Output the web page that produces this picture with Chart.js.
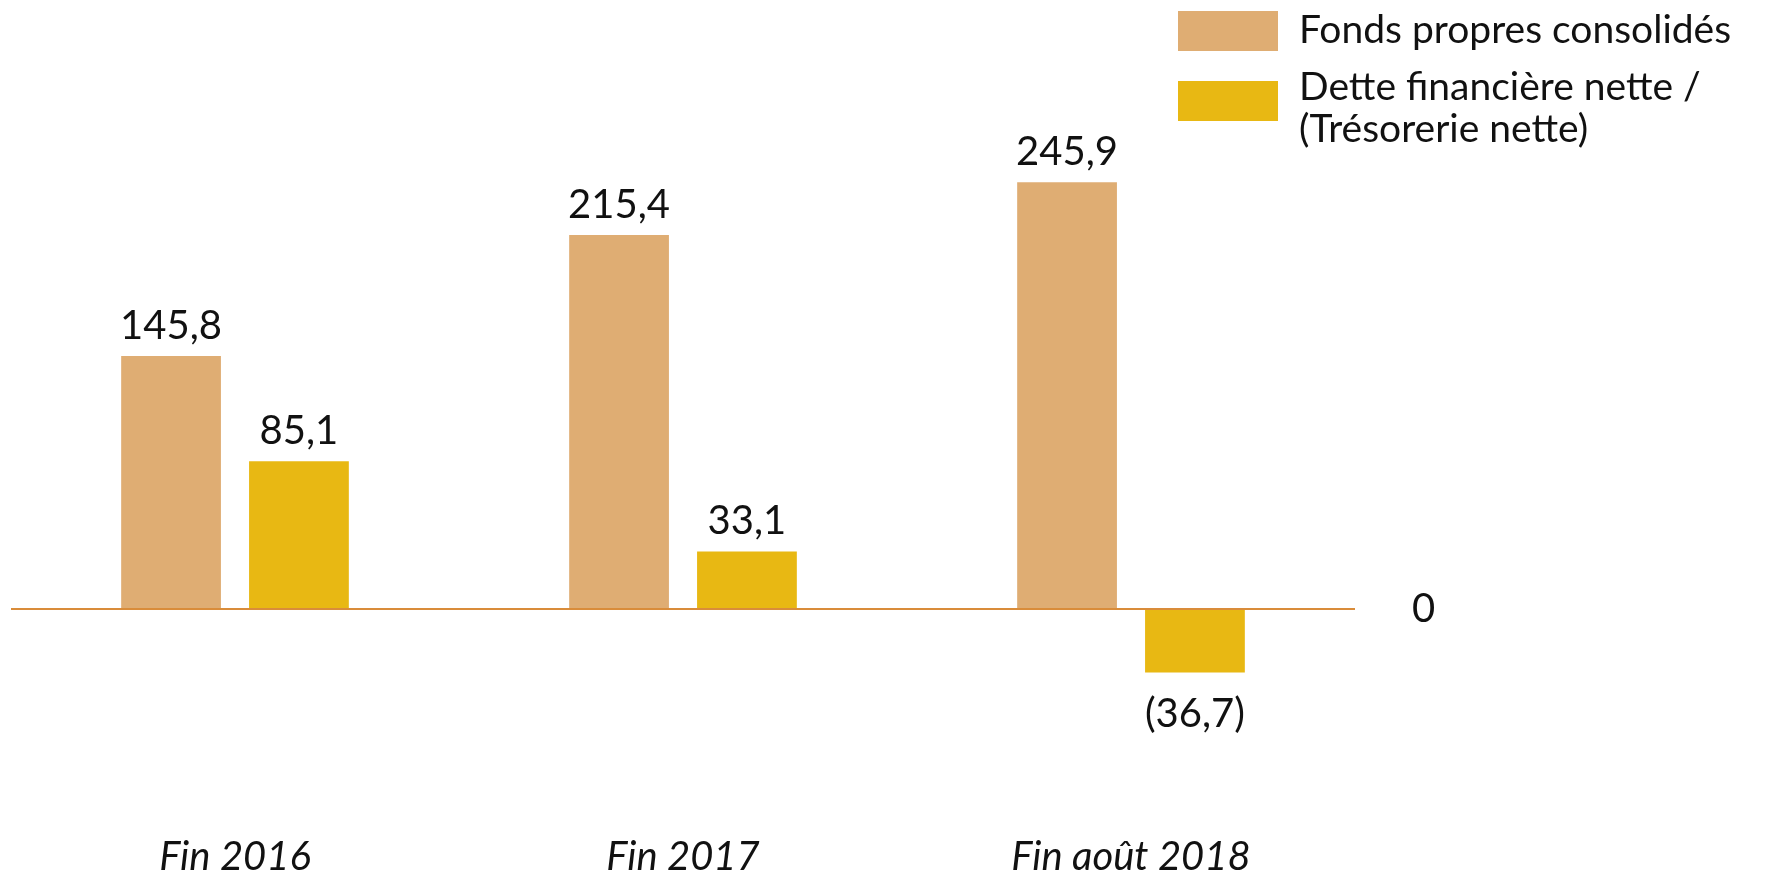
<!DOCTYPE html>
<html>
<head>
<meta charset="utf-8">
<script src="https://cdn.jsdelivr.net/npm/chart.js@4/dist/chart.umd.min.js"></script>
<style>
  html, body { margin: 0; padding: 0; background: #fff; }
  #wrap { position: relative; width: 1771px; height: 876px; }
  #legend { position: absolute; left: 1178px; top: 7px; font-family: Lato, sans-serif; font-size: 39px; color: #111; white-space: nowrap; }
  .item { position: relative; padding-left: 121px; line-height: 42px; }
  .box { position: absolute; left: 0; width: 100px; height: 40px; }
</style>
</head>
<body>
<div id="wrap">
  <canvas id="chart" width="1771" height="876"></canvas>
  <div id="legend"></div>
</div>
<script>
const categories = ['Fin 2016', 'Fin 2017', 'Fin août 2018'];
const fondsPropres = [145.8, 215.4, 245.9];
const detteNette = [85.1, 33.1, -36.7];
const seriesNames = ['Fonds propres consolidés', 'Dette financière nette /\n(Trésorerie nette)'];
const colors = ['#DFAD73', '#E8B813'];

const fontFamily = 'Lato, sans-serif';

// legend in html, the second name wraps on two lines
const legend = document.getElementById('legend');
seriesNames.forEach((name, i) => {
    const div = document.createElement('div');
    div.className = 'item';
    div.style.marginBottom = i === 0 ? '15px' : '0';
    const box = document.createElement('span');
    box.className = 'box';
    box.style.background = colors[i];
    box.style.top = i === 0 ? '4px' : '17px';
    div.appendChild(box);
    name.split('\n').forEach((line, j) => {
        if (j > 0) div.appendChild(document.createElement('br'));
        div.appendChild(document.createTextNode(line));
    });
    legend.appendChild(div);
});

function fmt(v) {
    const s = Math.abs(v).toFixed(1).replace('.', ',');
    return v < 0 ? '(' + s + ')' : s;
}

const valueLabels = {
    id: 'valueLabels',
    afterDatasetsDraw(chart) {
        const ctx = chart.ctx;
        ctx.save();
        ctx.font = '40px ' + fontFamily;
        ctx.fillStyle = '#111';
        ctx.textAlign = 'center';
        ctx.textBaseline = 'alphabetic';
        chart.data.datasets.forEach((ds, i) => {
            chart.getDatasetMeta(i).data.forEach((bar, j) => {
                const v = ds.data[j];
                const y = v >= 0 ? bar.y - 17 : bar.y + 54;
                ctx.fillText(fmt(v), bar.x, y);
            });
        });
        ctx.restore();
    }
};

new Chart(
    document.getElementById('chart'),
    {
        type: 'bar',
        data: {
            labels: categories,
            datasets: [
                { label: seriesNames[0], data: fondsPropres, backgroundColor: colors[0] },
                { label: seriesNames[1], data: detteNette, backgroundColor: colors[1] },
            ]
        },
        options: {
            responsive: false,
            animation: false,
            layout: { padding: { left: 11, top: 123, right: 0, bottom: 0 } },
            plugins: {
                legend: { display: false },
                tooltip: { enabled: false },
            },
            datasets: {
                bar: {
                    categoryPercentage: 0.571,
                    barPercentage: 0.78,
                }
            },
            scales: {
                x: {
                    grid: { display: false },
                    border: { display: false },
                    ticks: {
                        color: '#111',
                        padding: 112,
                        font: { family: fontFamily, size: 40, style: 'italic' },
                    },
                    afterFit: (scale) => { scale.height = 163; },
                },
                y: {
                    position: 'right',
                    min: -60,
                    max: 280,
                    afterBuildTicks: (scale) => { scale.ticks = [{ value: 0 }]; },
                    grid: {
                        drawTicks: false,
                        lineWidth: 2,
                        color: '#D98C3A',
                    },
                    border: { display: false },
                    ticks: {
                        color: '#111',
                        padding: 57,
                        font: { family: fontFamily, size: 40 },
                    },
                    afterFit: (scale) => { scale.width = 416; },
                }
            }
        },
        plugins: [valueLabels]
    }
);
</script>
</body>
</html>
